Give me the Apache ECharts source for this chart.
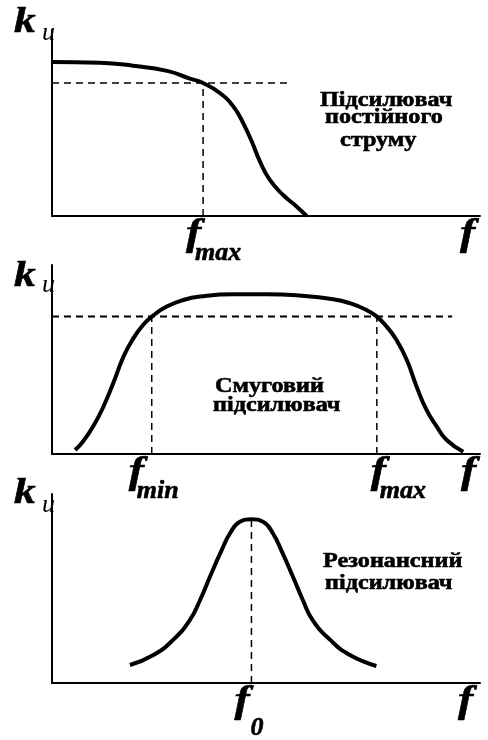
<!DOCTYPE html>
<html>
<head>
<meta charset="utf-8">
<script src="https://cdn.jsdelivr.net/npm/echarts@6/dist/echarts.min.js"></script>
<style>
  html, body { margin: 0; padding: 0; background: #fff; }
  #main { width: 488px; height: 740px; }
</style>
</head>
<body>
<div id="main"></div>
<script>
// панель 1: підсилювач постійного струму (нормовані одиниці 0..100)
var dcX = [0, 11.2, 18.9, 26.9, 32.2, 35.3, 39.3, 42.4, 44.7, 46.7, 48.6, 50.9, 54.0, 57.2, 59.5];
var dcY = [82.8, 82.4, 80.8, 78.0, 73.9, 71.5, 66.0, 58.8, 49.8, 39.9, 29.2, 19.4, 11.3, 5.0, 0];
var dcLevel = 71.5, dcLevelEnd = 54.9, dcFmax = 35.3;

// панель 2: смуговий підсилювач
var bandX = [5.4, 7.2, 9.6, 12.0, 14.3, 16.7, 19.0, 21.3, 23.3, 26.8, 30.7, 34.6, 42.4, 50.2, 57.9, 65.7, 69.6, 73.5, 75.9, 78.2, 80.5, 82.9, 85.2, 87.5, 89.9, 92.2, 96.1];
var bandY = [2.1, 6.5, 14.5, 25.0, 37.4, 51.5, 61.2, 68.3, 72.7, 78.0, 81.5, 83.3, 84.5, 84.5, 83.8, 81.9, 79.8, 76.2, 72.7, 67.4, 60.3, 49.7, 35.6, 23.3, 14.5, 7.4, 1.2];
var bandLevel = 72.7, bandLevelEnd = 93.5, bandFmin = 23.3, bandFmax = 75.9;

// панель 3: резонансний підсилювач
var resX = [18.2, 23.7, 28.3, 32.2, 34.6, 36.9, 39.3, 41.6, 43.9, 46.6, 49.3, 51.6, 53.9, 56.3, 58.6, 60.9, 65.0, 69.6, 75.8];
var resY = [9.5, 14.8, 22.8, 33.3, 43.9, 56.2, 68.6, 79.2, 85.3, 86.6, 85.3, 79.2, 68.6, 56.2, 43.9, 33.3, 22.8, 14.8, 9.0];
var resF0 = 46.6, resPeak = 86.6;

var titles = [
  ['Підсилювач', 'постійного', 'струму'],
  ['Смуговий', 'підсилювач'],
  ['Резонансний', 'підсилювач']
];

function zip(xs, ys) {
  var out = [];
  for (var i = 0; i < xs.length; i++) out.push([xs[i], ys[i]]);
  return out;
}

var SERIF = '"Liberation Serif", "DejaVu Serif", serif';
var axisLine = { show: true, onZero: false, lineStyle: { color: '#000', width: 2 } };

function axis(idx) {
  return {
    type: 'value', gridIndex: idx, min: 0, max: 100,
    axisLine: axisLine, axisTick: { show: false },
    axisLabel: { show: false }, splitLine: { show: false }
  };
}

function curve(idx, data) {
  return {
    type: 'line', xAxisIndex: idx, yAxisIndex: idx, data: data,
    smooth: 0.5, symbol: 'none', silent: true,
    lineStyle: { color: '#000', width: 4, cap: 'butt' }
  };
}

function dashed(idx, data, w) {
  return {
    type: 'line', xAxisIndex: idx, yAxisIndex: idx, data: data,
    symbol: 'none', silent: true,
    lineStyle: { color: '#000', width: w || 1.5, type: [7, 5] }
  };
}

var chart = echarts.init(document.getElementById('main'));
chart.setOption({
  animation: false,
  backgroundColor: '#fff',
  grid: [
    { left: 52, width: 428, top: 30, height: 186 },
    { left: 52, width: 428, top: 265, height: 189 },
    { left: 52, width: 428, top: 494, height: 189 }
  ],
  xAxis: [axis(0), axis(1), axis(2)],
  yAxis: [axis(0), axis(1), axis(2)],
  series: [
    curve(0, zip(dcX, dcY)),
    dashed(0, [[0, dcLevel], [dcLevelEnd, dcLevel]]),
    dashed(0, [[dcFmax, 0], [dcFmax, dcLevel]]),

    curve(1, zip(bandX, bandY)),
    dashed(1, [[0, bandLevel], [bandLevelEnd, bandLevel]], 2),
    dashed(1, [[bandFmin, 0], [bandFmin, bandLevel]]),
    dashed(1, [[bandFmax, 0], [bandFmax, bandLevel]]),

    curve(2, zip(resX, resY)),
    dashed(2, [[resF0, 0], [resF0, resPeak]])
  ]
});

function txt(s, x, y, font, sx, heavy) {
  return {
    type: 'text', x: x, y: y, scaleX: sx || 1, silent: true,
    style: {
      text: s, font: font, fill: '#000', textAlign: 'left', textVerticalAlign: 'middle',
      stroke: heavy ? '#000' : null, lineWidth: heavy ? 0.6 : 0
    }
  };
}

var fBig = 'italic bold 38px ' + SERIF;
var fSub = 'italic bold 26px ' + SERIF;
var kFont = 'italic bold 36px ' + SERIF;
var uFont = 'italic 26px ' + SERIF;
var tFont = 'bold 22px ' + SERIF;

var g = [];
// k_u над кожною віссю Y
[[23, 33], [277, 285], [494, 505]].forEach(function (p) {
  g.push(txt('k', 14, p[0], kFont, 1.2, true));
  g.push(txt('u', 42, p[1], uFont, 1));
});
// f на кінці кожної осі X
[[235, 460], [473, 461], [702, 458]].forEach(function (p) {
  g.push(txt('f', p[1], p[0], fBig, 1.2, true));
});

// підписи частот під осями, прив'язані до даних
var freqLabels = [
  { grid: 0, x: dcFmax, main: -17, sub: 'max', subDx: -8, subDy: 37 },
  { grid: 1, x: bandFmin, main: -23, sub: 'min', subDx: -15, subDy: 37 },
  { grid: 1, x: bandFmax, main: -6, sub: 'max', subDx: 3, subDy: 37 },
  { grid: 2, x: resF0, main: -17, sub: '0', subDx: -1, subDy: 45 }
];
freqLabels.forEach(function (l) {
  var p = chart.convertToPixel({ gridIndex: l.grid }, [l.x, 0]);
  g.push(txt('f', p[0] + l.main, p[1] + 19, fBig, 1.2, true));
  g.push(txt(l.sub, p[0] + l.subDx, p[1] + l.subDy, fSub, 1, true));
});

// підписи типів підсилювачів
g.push(txt(titles[0][0], 320, 100, tFont, 1.1, true));
g.push(txt(titles[0][1], 325, 117, tFont, 1.1, true));
g.push(txt(titles[0][2], 340, 140, tFont, 1.1, true));
g.push(txt(titles[1][0], 215, 386, tFont, 1.1, true));
g.push(txt(titles[1][1], 213, 405, tFont, 1.1, true));
g.push(txt(titles[2][0], 323, 561, tFont, 1.1, true));
g.push(txt(titles[2][1], 325, 583, tFont, 1.1, true));

chart.setOption({ graphic: g });
</script>
</body>
</html>
